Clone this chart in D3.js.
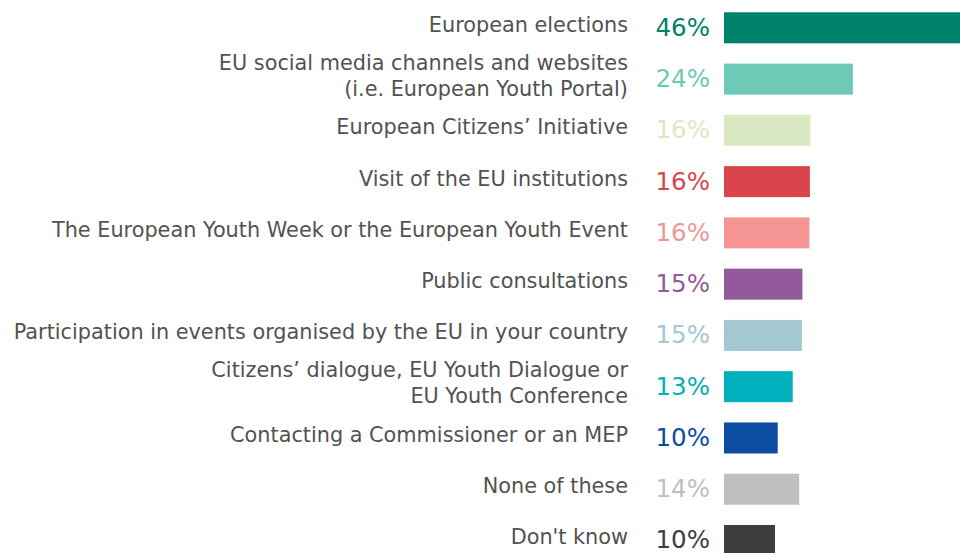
<!DOCTYPE html>
<html><head><meta charset="utf-8">
<script src="https://cdn.jsdelivr.net/npm/d3@7"></script>
<style>
html,body{margin:0;padding:0;background:#fff;overflow:hidden}
svg{display:block}
</style></head>
<body>
<svg id="chart" width="960" height="553"></svg>
<script>
const categories = [
  ["European elections"],
  ["EU social media channels and websites", "(i.e. European Youth Portal)"],
  ["European Citizens\u2019 Initiative"],
  ["Visit of the EU institutions"],
  ["The European Youth Week or the European Youth Event"],
  ["Public consultations"],
  ["Participation in events organised by the EU in your country"],
  ["Citizens\u2019 dialogue, EU Youth Dialogue or", "EU Youth Conference"],
  ["Contacting a Commissioner or an MEP"],
  ["None of these"],
  ["Don't know"]
];
const values = [46, 24, 16.1, 16.0, 15.9, 14.6, 14.5, 12.8, 10.0, 14.0, 9.5];
const colors = ["#00816a", "#6ec9b7", "#dbe9c2", "#da444b", "#f49593", "#935a9b",
                "#a3c8d1", "#00b0bd", "#0c4da2", "#bfbfc0", "#3d3d3f"];

const svg = d3.select("#chart");
const font = "'DejaVu Sans', sans-serif";

const x = d3.scaleLinear().domain([0, 100]).range([724, 724 + 537]);
const y = d3.scaleBand().domain(d3.range(categories.length))
  .range([12.3, 556]).paddingInner(0.395).paddingOuter(0);

const rows = svg.selectAll("g.row").data(categories).join("g").attr("class", "row");

rows.append("rect")
  .attr("x", x(0))
  .attr("y", (d, i) => y(i))
  .attr("width", (d, i) => x(values[i]) - x(0))
  .attr("height", y.bandwidth())
  .attr("fill", (d, i) => colors[i]);

rows.append("text")
  .attr("x", 710)
  .attr("y", (d, i) => y(i) + y.bandwidth() / 2 + 8)
  .attr("text-anchor", "end")
  .attr("font-family", font)
  .attr("font-size", 24.5)
  .attr("fill", (d, i) => colors[i])
  .text((d, i) => Math.round(values[i]) + "%");

rows.each(function(lines, i) {
  const cy = y(i) + y.bandwidth() / 2;
  const t = d3.select(this).append("text")
    .attr("text-anchor", "end")
    .attr("font-family", font)
    .attr("font-size", 20.8)
    .attr("fill", "#525252");
  lines.forEach((line, j) => {
    const base = lines.length === 1 ? cy + 4 : cy - 9.5 + j * 26;
    t.append("tspan").attr("x", 628).attr("y", base).text(line);
  });
});
</script>
</body></html>
